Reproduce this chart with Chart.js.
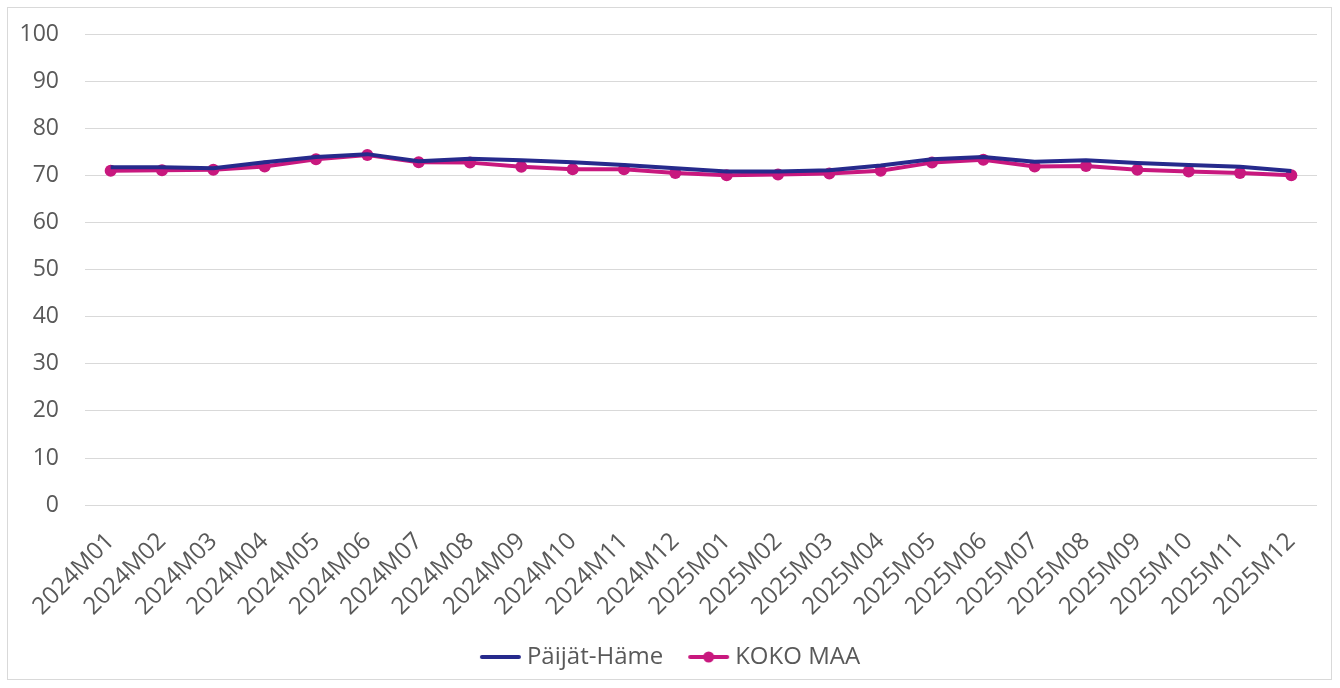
<!DOCTYPE html>
<html>
<head>
<meta charset="utf-8">
<script src="https://cdn.jsdelivr.net/npm/chart.js@4.4.1/dist/chart.umd.min.js"></script>
<style>
  html, body { margin: 0; padding: 0; background: #ffffff; }
  #wrap {
    position: absolute; left: 7px; top: 7px;
    width: 1325px; height: 673px;
    border: 1px solid #d9d9d9; box-sizing: border-box;
  }
</style>
</head>
<body>
<div id="wrap"><canvas id="chart"></canvas></div>
<script>
const months = [
  "2024M01", "2024M02", "2024M03", "2024M04", "2024M05", "2024M06",
  "2024M07", "2024M08", "2024M09", "2024M10", "2024M11", "2024M12",
  "2025M01", "2025M02", "2025M03", "2025M04", "2025M05", "2025M06",
  "2025M07", "2025M08", "2025M09", "2025M10", "2025M11", "2025M12",
];

const paijatHame = [
  71.7, 71.7, 71.5, 72.8, 73.9, 74.5, 73.0, 73.5, 73.2, 72.8, 72.2, 71.5,
  70.8, 70.8, 71.1, 72.1, 73.4, 73.9, 72.9, 73.2, 72.6, 72.2, 71.8, 70.9,
];

const kokoMaa = [
  71.0, 71.1, 71.2, 71.9, 73.4, 74.3, 72.8, 72.7, 71.8, 71.3, 71.3, 70.5,
  70.0, 70.2, 70.4, 71.0, 72.7, 73.3, 71.9, 72.0, 71.2, 70.8, 70.5, 70.0,
];

const yTicks = [0, 10, 20, 30, 40, 50, 60, 70, 80, 90, 100];

const blue = "#262a8c";
const pink = "#c8187e";
const font = "'Open Sans', sans-serif";

// legend swatches: plain line, and line with dot
// (transparent left part gives the gap between legend items)
function swatch(color, withDot) {
  const c = document.createElement("canvas");
  c.width = 66;
  c.height = 14;
  const ctx = c.getContext("2d");
  ctx.strokeStyle = color;
  ctx.lineWidth = 4;
  ctx.lineCap = "round";
  ctx.beginPath();
  ctx.moveTo(25, 7);
  ctx.lineTo(62, 7);
  ctx.stroke();
  if (withDot) {
    ctx.fillStyle = color;
    ctx.beginPath();
    ctx.arc(43.5, 7, 5.5, 0, Math.PI * 2);
    ctx.fill();
  }
  return c;
}

const ctx = document.getElementById("chart").getContext("2d");

new Chart(ctx, {
  type: "line",
  data: {
    labels: months,
    datasets: [
      {
        label: "Päijät-Häme",
        data: paijatHame,
        borderColor: blue,
        backgroundColor: blue,
        borderWidth: 4,
        pointRadius: 0,
        pointHoverRadius: 0,
        tension: 0,
      },
      {
        label: "KOKO MAA",
        data: kokoMaa,
        borderColor: pink,
        backgroundColor: pink,
        borderWidth: 4,
        pointRadius: 6,
        pointBackgroundColor: pink,
        pointBorderWidth: 0,
        pointStyle: "circle",
        tension: 0,
      },
    ],
  },
  options: {
    responsive: true,
    maintainAspectRatio: false,
    animation: false,
    layout: { padding: { top: 0, right: 14, left: 0, bottom: 0 } },
    plugins: {
      legend: {
        position: "bottom",
        labels: {
          usePointStyle: true,
          pointStyleWidth: 50,
          color: "#595959",
          font: { family: font, size: 24 },
          padding: 10,
          generateLabels: (chart) =>
            chart.data.datasets.map((ds, i) => ({
              text: ds.label,
              fontColor: "#595959",
              pointStyle: swatch(ds.borderColor, i === 1),
              datasetIndex: i,
              hidden: false,
              lineWidth: 0,
            })),
        },
      },
      tooltip: { enabled: false },
    },
    scales: {
      x: {
        offset: true,
        grid: { display: false },
        border: { display: false },
        ticks: {
          color: "#595959",
          font: { family: font, size: 24 },
          minRotation: 45,
          maxRotation: 45,
          autoSkip: false,
          padding: 14,
        },
        afterFit: (s) => {
          s.paddingLeft = 0;
          s.paddingRight = 0;
        },
      },
      y: {
        min: 0,
        max: 100,
        afterBuildTicks: (axis) => {
          axis.ticks = yTicks.map((v) => ({ value: v }));
        },
        afterFit: (s) => {
          s.width = 77;
          s.paddingTop = 26;
          s.paddingBottom = 0;
        },
        grid: { color: "#d9d9d9", lineWidth: 1, drawTicks: false },
        border: { display: false },
        ticks: {
          color: "#595959",
          font: { family: font, size: 23 },
          padding: 26,
        },
      },
    },
  },
});
</script>
</body>
</html>
